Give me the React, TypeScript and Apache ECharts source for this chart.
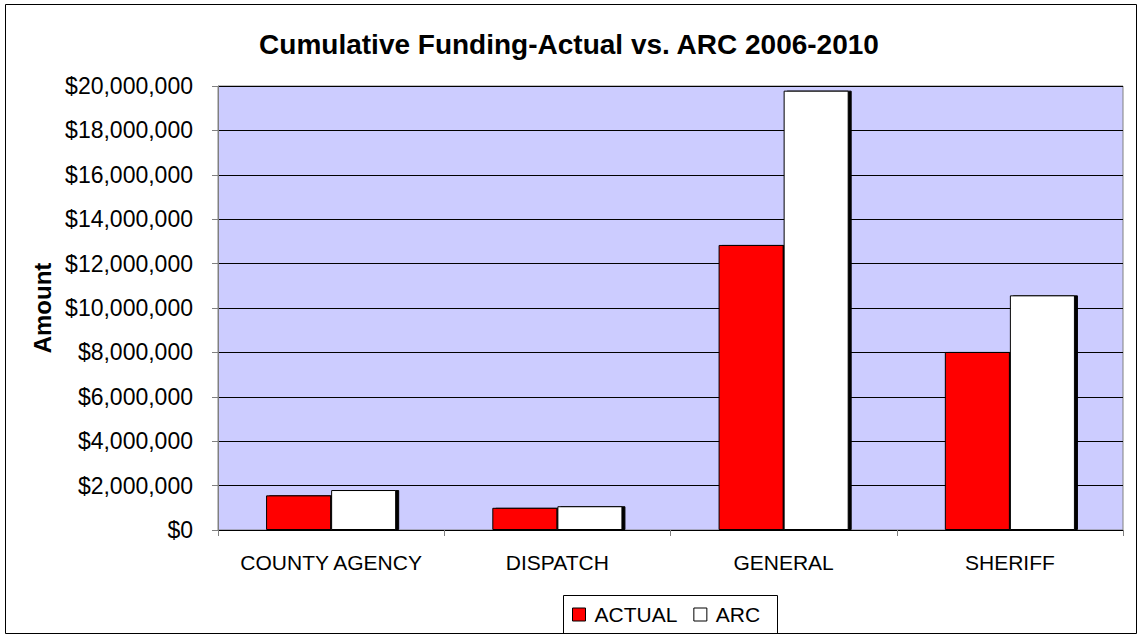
import React, { useEffect, useRef } from "react";
import * as echarts from "echarts";

const categories = ["COUNTY AGENCY", "DISPATCH", "GENERAL", "SHERIFF"];
const actualValues = [1560000, 1000000, 12840000, 8020000];
const arcValues = [1800000, 1070000, 19790000, 10570000];
const seriesNames = ["ACTUAL", "ARC"];

const fmt = (v: number) => "$" + v.toLocaleString("en-US");

export default function App() {
  const ref = useRef<HTMLDivElement>(null);
  useEffect(() => {
    if (!ref.current) return;
    const chart = echarts.init(ref.current, undefined, { renderer: "svg" });
    const font = "Arial, 'Liberation Sans', sans-serif";
    const noShadow = { shadowBlur: 0, shadowOffsetX: 0, shadowOffsetY: 0, shadowColor: "transparent" };
    chart.setOption({
      animation: false,
      backgroundColor: "#ffffff",
      textStyle: { fontFamily: font },
      title: {
        text: "Cumulative Funding-Actual vs. ARC 2006-2010",
        left: "center",
        top: 25,
        textStyle: { fontSize: 28, fontWeight: "bold", color: "#000", fontFamily: font },
      },
      graphic: [
        {
          type: "rect",
          shape: { x: 5.5, y: 4.5, width: 1131, height: 629 },
          style: { fill: "none", stroke: "#000", lineWidth: 1 },
          silent: true,
        },
        {
          type: "rect",
          shape: { x: 563.5, y: 595.5, width: 214, height: 38 },
          style: { fill: "#fff", stroke: "#000", lineWidth: 1 },
          silent: true,
          z: -1,
        },
      ],
      legend: {
        data: [
          { name: seriesNames[0], itemStyle: { color: "#ff0000", borderColor: "#000", borderWidth: 1, ...noShadow } },
          { name: seriesNames[1], itemStyle: { color: "#ffffff", borderColor: "#000", borderWidth: 1, ...noShadow } },
        ],
        left: 572,
        top: 604,
        padding: 0,
        itemWidth: 13,
        itemHeight: 13,
        itemGap: 16,
        icon: "rect",
        textStyle: { fontSize: 21, color: "#000", fontFamily: font, padding: [0, 0, 0, 4] },
      },
      grid: {
        left: 218,
        top: 86,
        right: 15,
        bottom: 106,
        show: true,
        backgroundColor: "#ccccff",
        borderColor: "#808080",
        borderWidth: 1,
      },
      xAxis: {
        type: "category",
        data: categories,
        axisLine: { lineStyle: { color: "#000", width: 1 } },
        axisTick: { show: true, length: 6, lineStyle: { color: "#808080" } },
        axisLabel: { fontSize: 21, color: "#000", margin: 22, fontFamily: font, interval: 0, hideOverlap: false },
      },
      yAxis: {
        type: "value",
        min: 0,
        max: 20000000,
        interval: 2000000,
        name: "Amount",
        nameLocation: "middle",
        nameGap: 163,
        nameTextStyle: { fontSize: 24, fontWeight: "bold", color: "#000", fontFamily: font },
        axisLine: { show: true, lineStyle: { color: "#808080", width: 1 } },
        axisTick: { show: true, length: 6, lineStyle: { color: "#808080" } },
        axisLabel: { fontSize: 23, color: "#000", margin: 25, formatter: (v: number) => fmt(v), fontFamily: font },
        splitLine: { show: true, lineStyle: { color: "#000", width: 1 } },
      },
      series: [
        {
          name: seriesNames[0],
          type: "bar",
          data: actualValues,
          barGap: "0%",
          barCategoryGap: "42.5%",
          itemStyle: {
            color: "#ff0000",
            borderColor: "#000",
            borderWidth: 1,
            shadowColor: "#000",
            shadowBlur: 0,
            shadowOffsetX: 3,
            shadowOffsetY: 0,
          },
        },
        {
          name: seriesNames[1],
          type: "bar",
          data: arcValues,
          barGap: "0%",
          barCategoryGap: "42.5%",
          itemStyle: {
            color: "#ffffff",
            borderColor: "#000",
            borderWidth: 1,
            shadowColor: "#000",
            shadowBlur: 0,
            shadowOffsetX: 3,
            shadowOffsetY: 0,
          },
        },
      ],
    });
    return () => chart.dispose();
  }, []);
  return (
    <div
      ref={ref}
      style={{ position: "fixed", left: 0, top: 0, width: 1138, height: 636 }}
    />
  );
}
